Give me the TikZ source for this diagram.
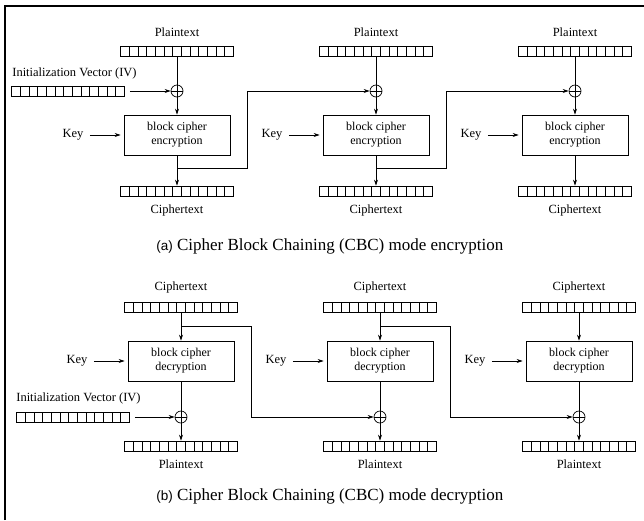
\documentclass[tikz,border=0pt]{standalone}
\usepackage{fontspec}
\setmainfont{Liberation Serif}
\setsansfont{Liberation Sans}
\usetikzlibrary{arrows.meta}

\begin{document}
\begin{tikzpicture}[x=1pt,y=-1pt,line width=0.7pt,
		>={Stealth[length=6pt,width=4pt]},
		lbl/.style={font=\fontsize{12.5}{14}\selectfont,inner sep=0pt},
		reg/.style={draw,minimum width=113pt,minimum height=10pt,inner sep=0pt,
			path picture={\foreach \i in {1,...,12}
				\draw ([xshift=\i*8.69pt]path picture bounding box.south west) -- ([xshift=\i*8.69pt]path picture bounding box.north west);}},
		xor/.style={draw,circle,minimum size=12pt,inner sep=0pt,
			path picture={\draw (path picture bounding box.north) -- (path picture bounding box.south)
				(path picture bounding box.west) -- (path picture bounding box.east);}},
		cipherbox/.style={draw,minimum width=106pt,minimum height=40pt,inner sep=0pt,
			align=center,font=\fontsize{12}{14}\selectfont},
		captxt/.style={font=\fontsize{17}{20}\selectfont,inner sep=0pt}]
	\useasboundingbox (0,0) rectangle (644,520);
	% frame
	\draw[line width=2pt] (5,520) -- (5,6) -- (644,6);

	% (a) encryption
	\node[lbl,anchor=west] (ivla) at (12,73) {Initialization Vector (IV)};
	\node[reg] (iva) at (68,91) {};
	\foreach \n/\cx in {1/177,2/376,3/575} {
		\node[lbl] (ptl\n) at (\cx,32) {Plaintext};
		\node[reg] (pin\n) at (\cx,51) {};
		\node[xor] (xe\n) at (\cx,91) {};
		\node[cipherbox] (enc\n) at (\cx,135) {block cipher\\encryption};
		\node[lbl] (key\n) at (\cx-104,135) {Key};
		\node[reg] (cout\n) at (\cx,191) {};
		\node[lbl] (ctl\n) at (\cx,210) {Ciphertext};
		\coordinate (ce\n) at (\cx,168);
		\draw (pin\n) -- (xe\n);
		\draw[->] (xe\n) -- (enc\n);
		\draw[->] (enc\n) -- (cout\n);
		\draw[->,shorten <=6pt,shorten >=3pt] (key\n) -- (enc\n);
	}
	\draw[->,shorten <=5pt] (iva) -- (xe1);
	\draw[->] (ce1) -- ++(70,0) |- (xe2);
	\draw[->] (ce2) -- ++(70,0) |- (xe3);
	\node[captxt,anchor=west] (capa) at (156,246) {{\sffamily\fontsize{13.5}{16}\selectfont (a)} Cipher Block Chaining (CBC) mode encryption};

	% (b) decryption
	\node[lbl,anchor=west] (ivlb) at (16,398) {Initialization Vector (IV)};
	\node[reg] (ivb) at (73,417) {};
	\foreach \n/\cx in {1/181,2/380,3/579} {
		\node[lbl] (dctl\n) at (\cx,287) {Ciphertext};
		\node[reg] (din\n) at (\cx,307) {};
		\node[cipherbox] (dec\n) at (\cx,361) {block cipher\\decryption};
		\node[lbl] (dkey\n) at (\cx-104,361) {Key};
		\node[xor] (xd\n) at (\cx,417) {};
		\node[reg] (dout\n) at (\cx,446) {};
		\node[lbl] (dptl\n) at (\cx,464) {Plaintext};
		\coordinate (cd\n) at (\cx,326);
		\draw[->] (din\n) -- (dec\n);
		\draw (dec\n) -- (xd\n);
		\draw[->] (xd\n) -- (dout\n);
		\draw[->,shorten <=6pt,shorten >=3pt] (dkey\n) -- (dec\n);
	}
	\draw[->,shorten <=5pt] (ivb) -- (xd1);
	\draw[->] (cd1) -- ++(70,0) |- (xd2);
	\draw[->] (cd2) -- ++(70,0) |- (xd3);
	\node[captxt,anchor=west] (capb) at (156,496) {{\sffamily\fontsize{13.5}{16}\selectfont (b)} Cipher Block Chaining (CBC) mode decryption};
\end{tikzpicture}
\end{document}
